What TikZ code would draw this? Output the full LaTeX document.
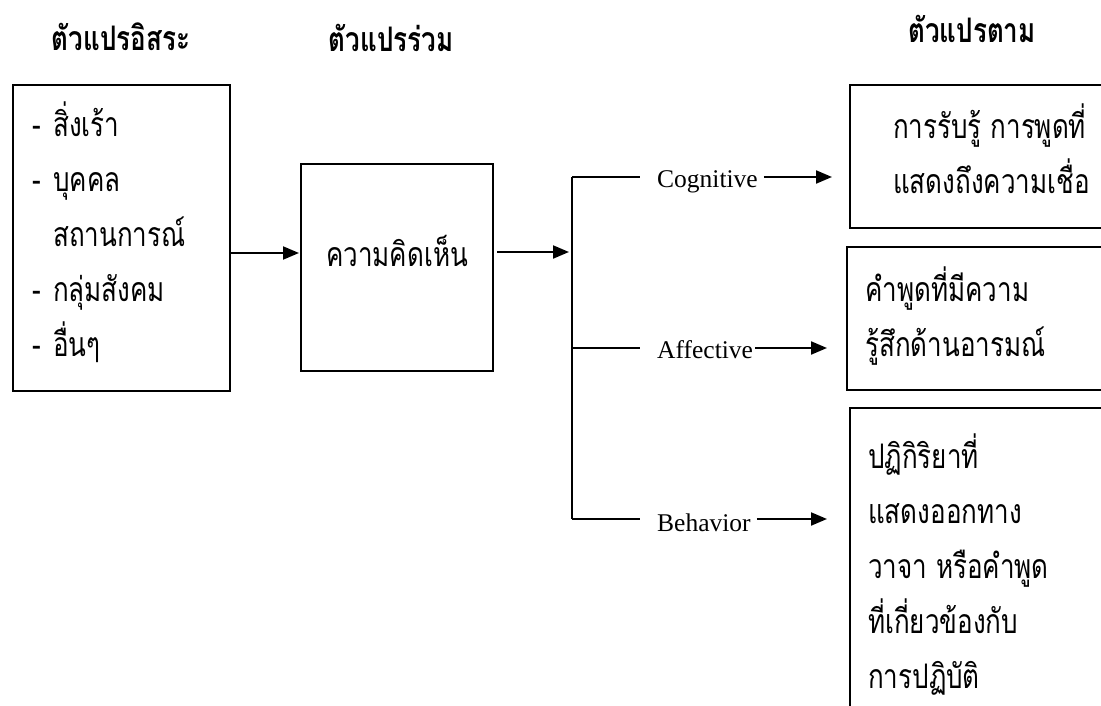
\documentclass[tikz,border=0pt]{standalone}
\usepackage{graphicx}
\usepackage{fontspec}
\setmainfont{Liberation Serif}
\newfontfamily\thai[Script=Thai]{Loma}
\usetikzlibrary{arrows.meta}
\tikzset{
  box/.style={draw, line width=2pt, inner sep=0pt, anchor=north west},
  thtxt/.style={font=\thai\fontsize{26}{55}\selectfont, align=left, inner sep=0pt},
  en/.style={font=\fontsize{25.5}{30}\selectfont, inner sep=0pt, anchor=base west},
  head/.style={font=\thai\bfseries\fontsize{26}{32}\selectfont, inner sep=0pt},
  ln/.style={line width=2pt},
  arr/.style={line width=2pt, -{Triangle[length=16pt,width=13pt]}}
}
\newcommand{\dsh}{\makebox[21pt][l]{-}}
\newcommand{\ts}[1]{\scalebox{1}[1.3]{#1}}
\begin{document}
\begin{tikzpicture}[x=1pt,y=-1pt]
\useasboundingbox (0,0) rectangle (1101,706);
\clip (0,0) rectangle (1101,706);
% headings
\node[head] (h1) at (121,37) {\ts{ตัวแปรอิสระ}};
\node[head] (h2) at (391,38) {\ts{ตัวแปรร่วม}};
\node[head] (h3) at (972,29) {\ts{ตัวแปรตาม}};
% left box
\node[box, minimum width=217pt, minimum height=306pt] (lb) at (12,84) {};
\node[thtxt, anchor=west] (lbt) at ([xshift=20pt,yshift=6pt]lb.west) {\ts{\dsh สิ่งเร้า}\\ \ts{\dsh บุคคล}\\ \ts{\hspace*{21pt}สถานการณ์}\\ \ts{\dsh กลุ่มสังคม}\\ \ts{\dsh อื่นๆ}};
% middle box
\node[box, minimum width=192pt, minimum height=207pt] (mb) at (300,163) {};
\node[thtxt] (mbt) at ([yshift=17pt]mb.center) {\ts{ความคิดเห็น}};
% right boxes
\node[box, minimum width=270pt, minimum height=143pt] (r1) at (849,84) {};
\node[thtxt, anchor=west] (r1t) at ([xshift=44pt,yshift=8pt]r1.west) {\ts{การรับรู้ การพูดที่}\\ \ts{แสดงถึงความเชื่อ}};
\node[box, minimum width=270pt, minimum height=143pt] (r2) at (846,246) {};
\node[thtxt, anchor=west] (r2t) at ([xshift=19pt,yshift=2pt]r2.west) {\ts{คำพูดที่มีความ}\\ \ts{รู้สึกด้านอารมณ์}};
\node[box, minimum width=270pt, minimum height=318pt] (r3) at (849,407) {};
\node[thtxt, anchor=west] (r3t) at ([xshift=19pt,yshift=2pt]r3.west) {\ts{ปฏิกิริยาที่}\\ \ts{แสดงออกทาง}\\ \ts{วาจา หรือคำพูด}\\ \ts{ที่เกี่ยวข้องกับ}\\ \ts{การปฏิบัติ}};
% bracket
\coordinate (bt) at (572,177);
\coordinate (bm) at (572,348);
\coordinate (bb) at (572,519);
\coordinate (bin) at (569,252);
\coordinate (lin) at (299,253);
\coordinate (ct) at (640,177);
\coordinate (at) at (640,348);
\coordinate (vt) at (640,519);
\coordinate (ca) at (832,177);
\coordinate (aa) at (827,348);
\coordinate (va) at (827,519);
\node[en] (cog) at (657,187) {Cognitive};
\node[en] (aff) at (657,358) {Affective};
\node[en] (beh) at (657,531) {Behavior};
\draw[arr] (lb.east |- lin) -- (lin);
\draw[arr] ([xshift=3pt]mb.east |- bin) -- (bin);
\draw[ln] (bt) -- (bb);
\draw[ln] (bt) -- (ct);
\draw[ln] (bm) -- (at);
\draw[ln] (bb) -- (vt);
\draw[arr] ([xshift=6pt]cog.east |- ca) -- (ca);
\draw[arr] ([xshift=2pt]aff.east |- aa) -- (aa);
\draw[arr] ([xshift=6pt]beh.east |- va) -- (va);
\end{tikzpicture}
\end{document}
